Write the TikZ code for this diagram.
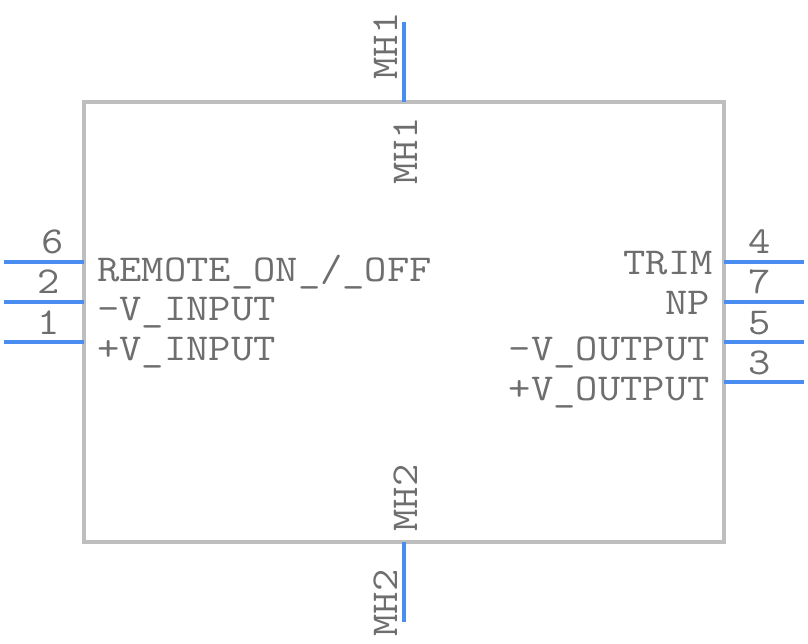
\documentclass[tikz,border=0pt]{standalone}
\definecolor{boxgray}{HTML}{BEBEBE}
\definecolor{pinblue}{HTML}{4A8CF0}
\definecolor{txtgray}{HTML}{6E6E6E}
\tikzset{x=1pt,y=-1pt,
 body/.style={draw=boxgray,line width=4pt,minimum width=640pt,minimum height=440pt,inner sep=0pt,outer sep=0pt,anchor=north west},
 pinline/.style={draw=pinblue,line width=4pt},
 lab/.style={inner sep=0pt,text=txtgray,font=\fontsize{38}{38}\ttfamily,xscale=1.14},
 ll/.style={lab,anchor=base west},
 lr/.style={lab,anchor=base east},
 lc/.style={lab,anchor=base}}
\begin{document}
\begin{tikzpicture}
\useasboundingbox (0,0) rectangle (808,644);
\node[body] (B) at (84,102) {};
\foreach \n/\y in {six/262,two/302,one/342}{
  \coordinate (\n) at (4,\y);
  \coordinate (\n i) at (B.west |- {(0,\y)});
  \draw[pinline] (\n) -- (\n i);
}
\foreach \n/\y in {four/262,seven/302,five/342,three/382}{
  \coordinate (\n) at (804,\y);
  \coordinate (\n i) at (B.east |- {(0,\y)});
  \draw[pinline] (\n) -- (\n i);
}
\coordinate (mA) at (404,22);
\coordinate (mB) at (404,622);
\draw[pinline] (mA) -- (B.north -| mA);
\draw[pinline] (mB) -- (B.south -| mB);
\node[lc] (n6) at (52.5,254) {6};
\node[lc] (n2) at (49,294) {2};
\node[lc] (n1) at (49,334) {1};
\node[lc] (n4) at (759.5,254) {4};
\node[lc] (n7) at (759.5,294) {7};
\node[lc] (n5) at (759.5,334) {5};
\node[lc] (n3) at (759.5,374) {3};
\node[ll] (t1) at (97,281) {REMOTE\_ON\_/\_OFF};
\node[ll] (t2) at (97,320) {\textendash V\_INPUT};
\node[ll] (t3) at (97,360) {+V\_INPUT};
\node[lr] (t4) at (713,274) {TRIM};
\node[lr] (t5) at (710,314) {NP};
\node[lr] (t6) at (710,360) {\textendash V\_OUTPUT};
\node[lr] (t7) at (710,400) {+V\_OUTPUT};
\node[rotate=90,lab,anchor=base] (m1) at (397,46) {MH1};
\node[rotate=90,lab,anchor=base] (m2) at (417,151) {MH1};
\node[rotate=90,lab,anchor=base] (m3) at (417,498) {MH2};
\node[rotate=90,lab,anchor=base] (m4) at (397,603) {MH2};
\end{tikzpicture}
\end{document}
